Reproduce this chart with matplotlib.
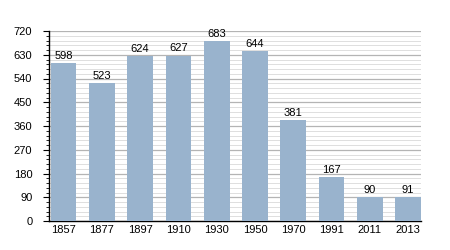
import matplotlib
matplotlib.use('Agg')
import matplotlib.pyplot as plt
from matplotlib.ticker import MultipleLocator

plt.rcParams['font.family'] = ['Liberation Sans', 'DejaVu Sans']

years = ['1857', '1877', '1897', '1910', '1930', '1950', '1970', '1991', '2011', '2013']
population = [598, 523, 624, 627, 683, 644, 381, 167, 90, 91]

fig = plt.figure(figsize=(4.5, 2.5), dpi=100)
ax = fig.add_axes([0.109, 0.116, 0.827, 0.76])

x = range(len(years))
bars = ax.bar(x, population, width=0.67, color='#99b3cd', zorder=3)
for xi, v in zip(x, population):
    ax.text(xi, v + 8, str(v), ha='center', va='bottom', fontsize=8, zorder=4)

ax.set_xlim(-0.38, 9.34)
ax.set_ylim(0, 720)
ax.set_xticks(list(x))
ax.set_xticklabels(years)
ax.yaxis.set_major_locator(MultipleLocator(90))
ax.yaxis.set_minor_locator(MultipleLocator(18))
ax.grid(axis='y', which='major', color='#b4b4b4', linewidth=0.9, zorder=0)
ax.grid(axis='y', which='minor', color='#dedede', linewidth=0.7, zorder=0)

for s in ['top', 'right']:
    ax.spines[s].set_visible(False)
ax.spines['left'].set_linewidth(1.0)
ax.spines['bottom'].set_linewidth(1.0)
ax.tick_params(axis='y', which='major', length=4, labelsize=8, pad=8)
ax.tick_params(axis='y', which='minor', length=2)
ax.tick_params(axis='x', length=0, labelsize=8, pad=3)

fig.savefig('out.png', dpi=100)
